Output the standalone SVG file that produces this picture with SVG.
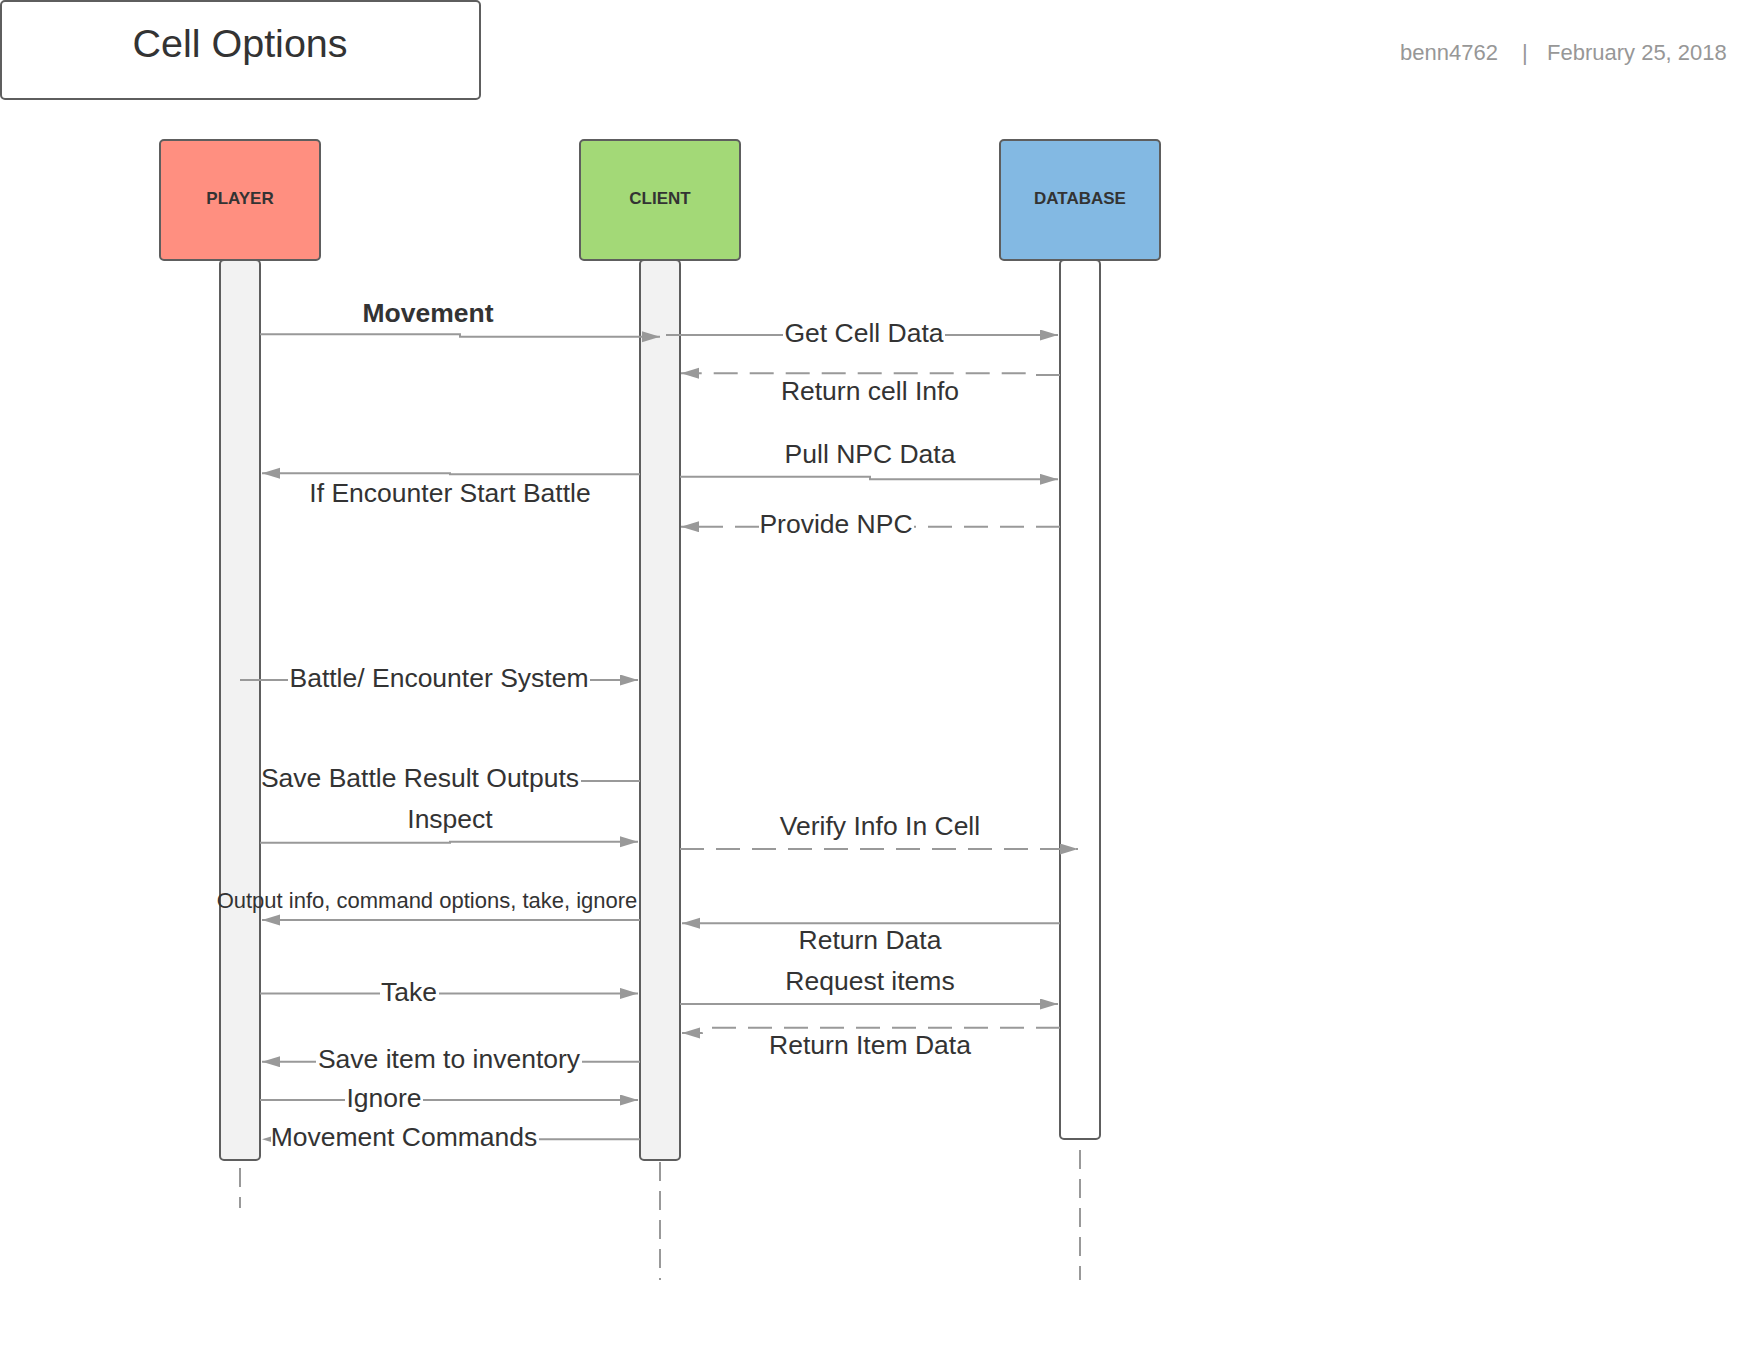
<svg xmlns="http://www.w3.org/2000/svg" width="1760" height="1360" viewBox="0 0 1760 1360">
<style>
.t{font-family:"Liberation Sans",Arial,sans-serif;fill:#333}
.lbl{font-size:26.5px;text-anchor:middle}
.act{stroke:#5e5e5e;stroke-width:2}
.actt{font-size:17px;font-weight:bold;text-anchor:middle}
.ln{fill:none;stroke:#999;stroke-width:2}
.dash{stroke-dasharray:24 12}
.life{fill:none;stroke:#999;stroke-width:2;stroke-dasharray:19 10}
.hdr{font-family:"Liberation Sans",Arial,sans-serif;font-size:22px;fill:#979797}
</style>
<defs>
<marker id="ah" markerUnits="userSpaceOnUse" markerWidth="20" markerHeight="12" refX="18" refY="5.5" orient="auto">
<path d="M0,0 L18,5.5 L0,11 z" fill="#999"/>
</marker>
</defs>
<rect width="1760" height="1360" fill="#fff"/>
<g id="title">
<rect x="1" y="1" width="479" height="98" rx="4" fill="#fff" class="act"/>
<text x="240" y="57" class="t" font-size="39.5" text-anchor="middle">Cell Options</text>
</g>
<g id="header">
<text x="1400" y="60" class="hdr">benn4762</text>
<text x="1522" y="60" class="hdr">|</text>
<text x="1547" y="60" class="hdr">February 25, 2018</text>
</g>
<g id="lifelines">
<line x1="240" y1="1168" x2="240" y2="1208" class="life"/>
<line x1="660" y1="1162" x2="660" y2="1280" class="life"/>
<line x1="1080" y1="1150" x2="1080" y2="1280" class="life"/>
</g>
<g id="player">
<rect x="160" y="140" width="160" height="120" rx="4" fill="#ff8f80" class="act"/>
<text x="240" y="203.5" class="t actt">PLAYER</text>
<rect x="220" y="260" width="40" height="900" rx="4" fill="#f2f2f2" class="act"/>
</g>
<g id="client">
<rect x="580" y="140" width="160" height="120" rx="4" fill="#a3d977" class="act"/>
<text x="660" y="203.5" class="t actt">CLIENT</text>
<rect x="640" y="260" width="40" height="900" rx="4" fill="#f2f2f2" class="act"/>
</g>
<g id="database">
<rect x="1000" y="140" width="160" height="120" rx="4" fill="#83b9e3" class="act"/>
<text x="1080" y="203.5" class="t actt">DATABASE</text>
<rect x="1060" y="260" width="40" height="879" rx="4" fill="#fff" class="act"/>
</g>
<g id="connectors">
<path d="M260 334.3 H460 V336.7 H660" class="ln" marker-end="url(#ah)"/>
<path d="M666 335 H783" class="ln"/>
<path d="M945 335 H1058" class="ln" marker-end="url(#ah)"/>
<path d="M1060 375 H1037 V373.3 H681" class="ln dash" marker-end="url(#ah)"/>
<path d="M680 476.7 H870 V479.3 H1058" class="ln" marker-end="url(#ah)"/>
<path d="M640 474.3 H450 V473.3 H262" class="ln" marker-end="url(#ah)"/>
<path d="M1060 526.7 H914" class="ln dash"/>
<path d="M759 526.7 H681" class="ln dash" marker-end="url(#ah)"/>
<path d="M240 680 H288" class="ln"/>
<path d="M590 680 H638" class="ln" marker-end="url(#ah)"/>
<path d="M640 781 H581" class="ln"/>
<path d="M260 842.7 H450 V841.7 H638" class="ln" marker-end="url(#ah)"/>
<path d="M680 849 H1078" class="ln dash" marker-end="url(#ah)"/>
<path d="M640 920 H262" class="ln" marker-end="url(#ah)"/>
<path d="M1060 923.3 H682" class="ln" marker-end="url(#ah)"/>
<path d="M260 993.4 H380" class="ln"/>
<path d="M439 993.4 H638" class="ln" marker-end="url(#ah)"/>
<path d="M680 1004 H1058" class="ln" marker-end="url(#ah)"/>
<path d="M1060 1027.7 H708 Q703 1027.7 702 1033 H682" class="ln dash" marker-end="url(#ah)"/>
<path d="M640 1061.7 H582" class="ln"/>
<path d="M316 1061.7 H262" class="ln" marker-end="url(#ah)"/>
<path d="M260 1100 H345" class="ln"/>
<path d="M423 1100 H638" class="ln" marker-end="url(#ah)"/>
<path d="M640 1139.3 H539" class="ln"/>
<path d="M262 1139.3 L271 1136.5 L271 1142.1 z" fill="#999"/>
</g>
<g id="labels">
<text x="428" y="322" class="t lbl" font-weight="bold">Movement</text>
<text x="864" y="341.5" class="t lbl">Get Cell Data</text>
<text x="870" y="399.5" class="t lbl">Return cell Info</text>
<text x="870" y="463" class="t lbl">Pull NPC Data</text>
<text x="450" y="501.5" class="t lbl">If Encounter Start Battle</text>
<text x="836" y="533" class="t lbl">Provide NPC</text>
<text x="439" y="686.5" class="t lbl">Battle/ Encounter System</text>
<text x="420" y="786.5" class="t lbl">Save Battle Result Outputs</text>
<text x="450" y="828" class="t lbl">Inspect</text>
<text x="880" y="834.5" class="t lbl">Verify Info In Cell</text>
<text x="427" y="908" class="t" font-size="22" text-anchor="middle">Output info, command options, take, ignore</text>
<text x="870" y="948.5" class="t lbl">Return Data</text>
<text x="870" y="989.5" class="t lbl">Request items</text>
<text x="409" y="1000.5" class="t lbl">Take</text>
<text x="870" y="1053.5" class="t lbl">Return Item Data</text>
<text x="449" y="1067.5" class="t lbl">Save item to inventory</text>
<text x="384" y="1106.5" class="t lbl">Ignore</text>
<text x="404" y="1145.5" class="t lbl">Movement Commands</text>
</g>
</svg>
